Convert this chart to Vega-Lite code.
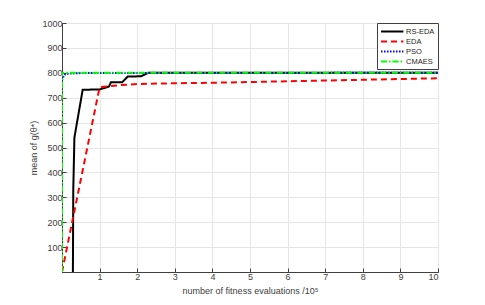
{
  "$schema": "https://vega.github.io/schema/vega-lite/v6.json",
  "width": 376,
  "height": 249,
  "autosize": {"type": "none"},
  "padding": {"left": 62, "top": 23, "right": 47, "bottom": 33},
  "background": "white",
  "config": {
    "font": "Liberation Sans",
    "view": {"stroke": "#404040", "strokeWidth": 1},
    "axis": {
      "domainColor": "#404040",
      "tickColor": "#404040",
      "labelColor": "#404040",
      "titleColor": "#404040",
      "labelFontSize": 9,
      "titleFontSize": 9,
      "titleFontWeight": "normal",
      "gridColor": "#e6e6e6",
      "tickSize": -4,
      "format": "d"
    }
  },
  "data": {
    "values": [
      {"series": "RS-EDA", "o": 1, "x": 0.29, "y": 0},
      {"series": "RS-EDA", "o": 2, "x": 0.30, "y": 330},
      {"series": "RS-EDA", "o": 3, "x": 0.33, "y": 540},
      {"series": "RS-EDA", "o": 4, "x": 0.55, "y": 732},
      {"series": "RS-EDA", "o": 5, "x": 1.0, "y": 733},
      {"series": "RS-EDA", "o": 6, "x": 1.15, "y": 740},
      {"series": "RS-EDA", "o": 7, "x": 1.25, "y": 745},
      {"series": "RS-EDA", "o": 8, "x": 1.3, "y": 762},
      {"series": "RS-EDA", "o": 9, "x": 1.6, "y": 762},
      {"series": "RS-EDA", "o": 10, "x": 1.75, "y": 785},
      {"series": "RS-EDA", "o": 11, "x": 2.1, "y": 786},
      {"series": "RS-EDA", "o": 12, "x": 2.25, "y": 797},
      {"series": "RS-EDA", "o": 13, "x": 2.3, "y": 800},
      {"series": "RS-EDA", "o": 14, "x": 10, "y": 800},
      {"series": "EDA", "o": 1, "x": 0, "y": 0},
      {"series": "EDA", "o": 2, "x": 1.0, "y": 742},
      {"series": "EDA", "o": 3, "x": 1.5, "y": 750},
      {"series": "EDA", "o": 4, "x": 2, "y": 755},
      {"series": "EDA", "o": 5, "x": 3, "y": 758},
      {"series": "EDA", "o": 6, "x": 4, "y": 760},
      {"series": "EDA", "o": 7, "x": 5, "y": 763},
      {"series": "EDA", "o": 8, "x": 6, "y": 766},
      {"series": "EDA", "o": 9, "x": 7, "y": 769},
      {"series": "EDA", "o": 10, "x": 8, "y": 772},
      {"series": "EDA", "o": 11, "x": 9, "y": 775},
      {"series": "EDA", "o": 12, "x": 10, "y": 778},
      {"series": "PSO", "o": 1, "x": 0, "y": 770},
      {"series": "PSO", "o": 2, "x": 0.05, "y": 790},
      {"series": "PSO", "o": 3, "x": 0.1, "y": 796},
      {"series": "PSO", "o": 4, "x": 0.5, "y": 799},
      {"series": "PSO", "o": 5, "x": 10, "y": 800},
      {"series": "CMAES", "o": 1, "x": 0, "y": 0},
      {"series": "CMAES", "o": 2, "x": 0.001, "y": 800},
      {"series": "CMAES", "o": 3, "x": 10, "y": 800}
    ]
  },
  "mark": {"type": "line", "strokeWidth": 2, "clip": true},
  "encoding": {
    "x": {
      "field": "x", "type": "quantitative",
      "scale": {"domain": [0, 10], "nice": false},
      "axis": {"values": [1,2,3,4,5,6,7,8,9,10], "title": "number of fitness evaluations /10⁵", "titlePadding": 5, "labelPadding": 4}
    },
    "y": {
      "field": "y", "type": "quantitative",
      "scale": {"domain": [0, 1000], "nice": false},
      "axis": {"values": [100,200,300,400,500,600,700,800,900,1000], "title": "mean of g(θ*)", "titlePadding": 3, "labelPadding": 4}
    },
    "order": {"field": "o", "type": "quantitative"},
    "color": {
      "field": "series", "type": "nominal",
      "scale": {"domain": ["RS-EDA", "EDA", "PSO", "CMAES"], "range": ["#000000", "#ff0000", "#0000ff", "#00ff00"]},
      "legend": {
        "title": null, "orient": "top-right", "offset": 0,
        "fillColor": "white", "strokeColor": "#404040", "padding": 3,
        "symbolType": "M-1,0H4", "symbolSize": 80, "symbolStrokeWidth": 2,
        "labelFontSize": 7.5, "labelColor": "#262626", "rowPadding": 0, "labelOffset": 15
      }
    },
    "strokeDash": {
      "field": "series", "type": "nominal",
      "scale": {"domain": ["RS-EDA", "EDA", "PSO", "CMAES"], "range": [[1, 0], [6, 4], [1.5, 1.5], [6, 2, 1.5, 2]]},
      "legend": null
    }
  }
}
